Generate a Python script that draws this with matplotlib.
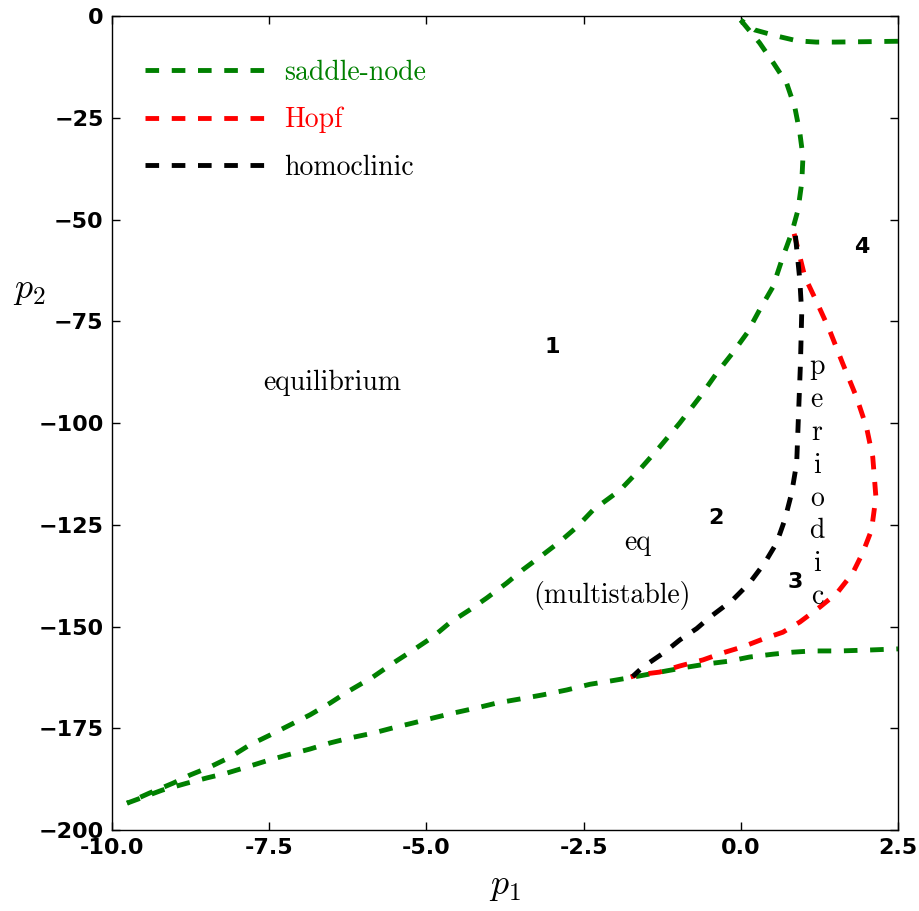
"""
Diagrama de bifurcação no plano (p1, p2): curvas sela-nó, Hopf e homoclínica.
"""
import matplotlib
matplotlib.use("Agg")
import matplotlib.pyplot as plt

# --- dados -------------------------------------------------------------------
# sela-nó: ramo superior quase horizontal (da direita até a cúspide em p1 = 0)
sn_top_p1 = [2.5, 2.0, 1.5, 1.2, 0.9, 0.57, 0.22, 0.0]
sn_top_p2 = [-6.2, -6.3, -6.4, -6.4, -6.1, -4.9, -3.4, -1.0]

# sela-nó: ramo principal (cúspide superior -> ponto BT -> cúspide esquerda)
sn_main_p1 = [0.0, 0.30, 0.51, 0.73, 0.86, 0.94, 0.99, 0.97, 0.91, 0.81,
              0.67, 0.51, 0.30, 0.10, -0.13, -0.38, -0.65, -0.97, -1.29,
              -1.61, -1.92, -2.35, -2.61, -2.88, -3.15, -3.47, -3.72, -4.04,
              -4.31, -4.63, -4.90, -5.21, -5.53, -5.85, -6.26, -6.53, -6.85,
              -7.17, -7.49, -7.81, -8.12, -8.44, -8.76, -9.03, -9.40, -9.76]
sn_main_p2 = [-1.0, -6.6, -11.3, -16.5, -22.4, -28.7, -34.6, -41.0, -47.7,
              -53.3, -59.2, -66.6, -72.2, -77.9, -82.8, -87.7, -93.6, -100.0,
              -105.9, -111.5, -116.5, -121.4, -125.6, -129.2, -132.4, -136.1,
              -139.3, -143.0, -145.9, -149.1, -152.6, -155.8, -159.0, -162.4,
              -166.1, -168.8, -171.7, -174.2, -176.7, -179.1, -182.1, -184.5,
              -186.5, -188.5, -190.9, -193.4]

# sela-nó: ramo inferior (cúspide esquerda -> borda direita)
sn_low_p1 = [-9.76, -9.20, -8.81, -8.49, -8.17, -7.85, -7.54, -7.22, -6.85,
             -6.53, -6.22, -5.85, -5.53, -5.21, -4.90, -4.58, -4.20, -3.88,
             -3.51, -3.15, -2.77, -2.40, -2.04, -1.70, -1.18, -0.86, -0.54,
             -0.18, 0.14, 0.51, 0.83, 1.14, 1.57, 2.00, 2.50]
sn_low_p2 = [-193.4, -190.2, -188.5, -187.2, -186.0, -184.5, -183.0, -181.6,
             -180.1, -178.6, -177.4, -176.2, -174.9, -173.7, -172.5, -171.3,
             -170.0, -168.8, -167.8, -166.8, -165.6, -164.2, -163.3, -162.4,
             -160.9, -160.0, -159.2, -158.5, -157.5, -156.8, -156.3, -156.0,
             -156.0, -155.8, -155.5]

# Hopf
hopf_p1 = [0.85, 1.02, 1.21, 1.41, 1.62, 1.84, 2.00, 2.10, 2.15, 2.08, 1.94,
           1.78, 1.53, 1.26, 0.94, 0.67, 0.35, 0.03, -0.29, -0.60, -0.97,
           -1.29, -1.65, -1.75]
hopf_p2 = [-53.5, -64.1, -70.3, -77.1, -85.3, -93.6, -101.0, -108.4, -118.2,
           -126.3, -131.9, -136.9, -141.8, -145.2, -148.9, -151.4, -153.1,
           -155.0, -156.5, -158.2, -159.7, -161.2, -161.9, -162.4]

# homoclínica
homo_p1 = [0.87, 0.94, 0.97, 0.95, 0.92, 0.89, 0.81, 0.70, 0.57, 0.38, 0.14,
           -0.13, -0.49, -0.70, -0.97, -1.21, -1.56, -1.72]
homo_p2 = [-54.0, -64.9, -73.0, -85.3, -97.5, -109.8, -117.2, -123.8, -129.5,
           -134.4, -139.3, -143.5, -147.7, -150.5, -153.3, -156.3, -160.0,
           -162.3]

region_labels = ["1", "2", "3", "4"]
region_p1 = [-2.99, -0.40, 0.87, 1.92]
region_p2 = [-81.3, -123.3, -139.0, -56.8]

GREEN, RED, BLACK = "#008000", "#ff0000", "#000000"
SERIF = "cmr10"

plt.rcParams["mathtext.fontset"] = "cm"
plt.rcParams["axes.unicode_minus"] = True

fig = plt.figure(figsize=(9.2, 9.11), dpi=100)
ax = fig.add_axes([0.1217, 0.0889, 0.976 - 0.1217, 0.9824 - 0.0889])

style = dict(lw=3.5, dashes=(2.8, 2.6))
ax.plot(sn_top_p1, sn_top_p2, color=GREEN, **style)
ax.plot(sn_main_p1, sn_main_p2, color=GREEN, label="saddle-node", **style)
ax.plot(sn_low_p1, sn_low_p2, color=GREEN, **style)
ax.plot(hopf_p1, hopf_p2, color=RED, label="Hopf", **style)
ax.plot(homo_p1, homo_p2, color=BLACK, label="homoclinic", **style)

ax.set_xlim(-10, 2.5)
ax.set_ylim(-200, 0)
ax.set_xticks([-10, -7.5, -5, -2.5, 0, 2.5])
ax.set_yticks([0, -25, -50, -75, -100, -125, -150, -175, -200])
ax.xaxis.set_major_formatter(matplotlib.ticker.FormatStrFormatter("%.1f"))
ax.tick_params(direction="in", top=True, right=True, length=6, width=1,
               labelsize=16, pad=6)
for lab in ax.get_xticklabels() + ax.get_yticklabels():
    lab.set_fontweight("bold")
for sp in ax.spines.values():
    sp.set_linewidth(1.0)

ax.set_xlabel("$p_1$", fontsize=26, labelpad=8)
ax.set_ylabel("$p_2$", fontsize=26, rotation=0, va="center")
ax.yaxis.set_label_coords(-0.105, 0.663)

leg = ax.legend(loc="upper left", bbox_to_anchor=(0.01, 0.977), frameon=False,
                handlelength=4.3, handletextpad=0.7, labelspacing=0.75,
                prop={"family": SERIF, "size": 20})
for txt, c in zip(leg.get_texts(), [GREEN, RED, BLACK]):
    txt.set_color(c)

for lab, x, y in zip(region_labels, region_p1, region_p2):
    ax.text(x, y, lab, fontsize=16, fontweight="bold", ha="center",
            va="center")

ax.text(-6.50, -90.2, "equilibrium", family=SERIF, fontsize=20,
        ha="center", va="center")
ax.text(-1.64, -129.5, "eq", family=SERIF, fontsize=20, ha="center",
        va="center")
ax.text(-2.05, -142.3, "(multistable)", family=SERIF, fontsize=20,
        ha="center", va="center")
ax.text(1.21, -114.5, "\n".join("periodic"), family=SERIF, fontsize=20,
        ha="center", va="center", linespacing=1.32)

fig.savefig("out.png", dpi=100)
